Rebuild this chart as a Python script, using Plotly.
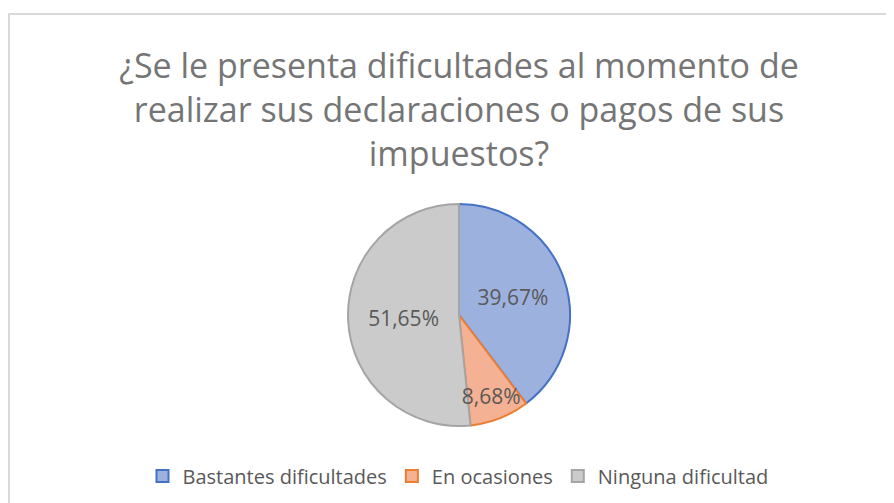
import plotly.graph_objects as go

categories = ["Bastantes dificultades", "En ocasiones", "Ninguna dificultad"]
values = [39.67, 8.68, 51.65]
fill_colors = ["#9DB1DF", "#F5B193", "#CBCBCB"]
line_colors = ["#4472C4", "#ED7D31", "#A5A5A5"]

W, H = 894, 503
OFF = 8  # browser body margin offset
cx, cy, r = 459 - OFF, 315 - OFF, 111
FONT = "Open Sans, Noto Sans, sans-serif"
LABEL = "%{percent:.2%}"
domain = dict(x=[(cx - r) / W, (cx + r) / W], y=[1 - (cy + r) / H, 1 - (cy - r) / H])
text_font = dict(family=FONT, size=21, color="#595959")

# base pie: every slice, labels on the two large slices
fig = go.Figure(go.Pie(
    labels=categories,
    values=values,
    sort=False,
    direction="clockwise",
    rotation=0,
    marker=dict(colors=fill_colors, line=dict(color=line_colors, width=2)),
    texttemplate=[LABEL, "", LABEL],
    textposition="inside",
    insidetextorientation="horizontal",
    textfont=text_font,
    domain=domain,
    hoverinfo="label+percent",
))
# transparent copy on top so the small slice's label overflows above the grey slice
fig.add_trace(go.Pie(
    labels=categories,
    values=values,
    sort=False,
    direction="clockwise",
    rotation=0,
    marker=dict(colors=["rgba(0,0,0,0)"] * len(values), line=dict(width=0)),
    texttemplate=["", LABEL, ""],
    textposition="inside",
    insidetextorientation="horizontal",
    textfont=text_font,
    domain=domain,
    showlegend=False,
    hoverinfo="skip",
))

fig.update_layout(
    width=W, height=H,
    margin=dict(l=0, r=0, t=0, b=0),
    paper_bgcolor="white",
    separators=",.",
    uniformtext=dict(minsize=21, mode="show"),
    title=dict(
        text="¿Se le presenta dificultades al momento de<br>realizar sus declaraciones o pagos de sus<br>impuestos?",
        x=(459 - OFF) / W, xanchor="center", y=1 - 70 / H, yanchor="top",
        font=dict(family=FONT, size=34, color="#757575"),
    ),
    legend=dict(
        orientation="h",
        x=(458 - OFF) / W, xanchor="center", y=1 - (476 - OFF) / H, yanchor="middle",
        font=dict(family=FONT, size=20, color="#595959"),
    ),
    shapes=[dict(type="rect", xref="paper", yref="paper",
                 x0=(9 - OFF) / W, x1=1.05, y0=-0.05, y1=1 - (14 - OFF) / H,
                 line=dict(color="#D9D9D9", width=2), fillcolor="rgba(0,0,0,0)", layer="below")],
)

fig.write_html("out.html")
